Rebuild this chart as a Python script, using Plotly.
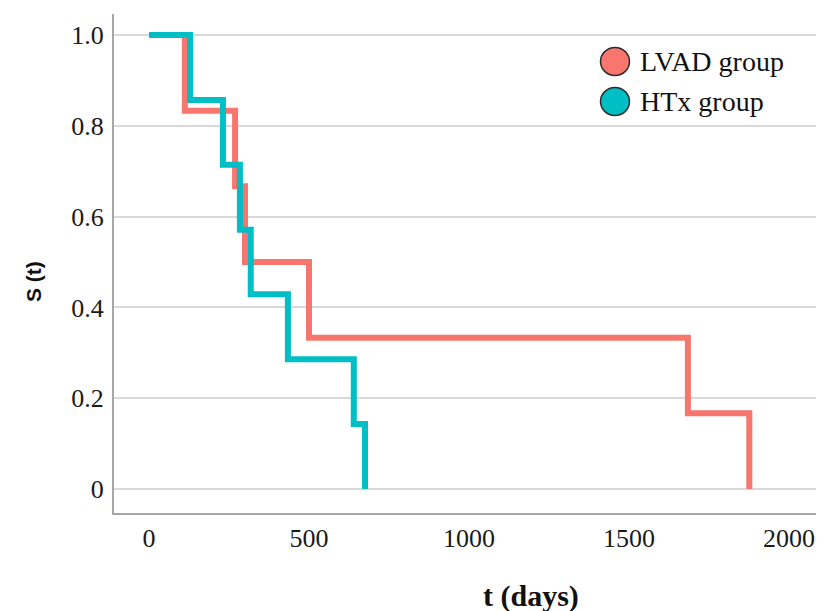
import plotly.graph_objects as go

# Kaplan-Meier step data
lvad_t = [0, 112, 269, 300, 500, 1684, 1876]
lvad_s = [1.0, 0.833, 0.667, 0.5, 0.333, 0.167, 0.0]

htx_t = [0, 128, 231, 284, 318, 434, 640, 675]
htx_s = [1.0, 0.857, 0.714, 0.571, 0.429, 0.286, 0.143, 0.0]

series_names = ["LVAD group", "HTx group"]
series_colors = ["#F8766D", "#00BFC4"]

x_tickvals = [0, 500, 1000, 1500, 2000]
x_ticktext = ["0", "500", "1000", "1500", "2000"]
y_tickvals = [0, 0.2, 0.4, 0.6, 0.8, 1.0]
y_ticktext = ["0", "0.2", "0.4", "0.6", "0.8", "1.0"]

OFF = 8  # page body margin in the browser
W, H = 824 - OFF, 611 - OFF
ML, MR, MT, MB = 106, 4, 6, 98
PW = W - ML - MR
PH = H - MT - MB


def px_x(p):
    return (p - OFF - ML) / PW


def px_y(p):
    return (H - MB - (p - OFF)) / PH


fig = go.Figure()
fig.add_trace(go.Scatter(x=lvad_t, y=lvad_s, mode="lines", line_shape="hv",
                         line=dict(color=series_colors[0], width=6),
                         name=series_names[0], showlegend=False))
fig.add_trace(go.Scatter(x=htx_t, y=htx_s, mode="lines", line_shape="hv",
                         line=dict(color=series_colors[1], width=6),
                         name=series_names[1], showlegend=False))

tick_font = dict(family="Liberation Serif", size=26, color="#1a1a1a")

fig.update_xaxes(range=[-109.4, 2096.9], tickvals=x_tickvals, ticktext=x_ticktext,
                 showgrid=False, zeroline=False, showline=True, linecolor="#a6a6a6",
                 linewidth=2, ticks="outside", ticklen=1, tickcolor="rgba(0,0,0,0)",
                 tickfont=tick_font)
fig.update_yaxes(range=[-0.0529, 1.0463], tickvals=y_tickvals, ticktext=y_ticktext,
                 showgrid=True, gridcolor="#d9d9d9", gridwidth=2, zeroline=False,
                 showline=True, linecolor="#a6a6a6", linewidth=2, ticks="outside",
                 ticklen=3, tickcolor="rgba(0,0,0,0)", tickfont=tick_font)

shapes = []
annotations = []
legend_rows = [61.5, 101.5]
for name, color, cy in zip(series_names, series_colors, legend_rows):
    shapes.append(dict(type="circle", xref="paper", yref="paper",
                       xsizemode="pixel", ysizemode="pixel",
                       xanchor=px_x(615), yanchor=px_y(cy),
                       x0=-14.5, x1=14.5, y0=-14, y1=14,
                       fillcolor=color, line=dict(color="#2b2b2b", width=1.5)))
    annotations.append(dict(text=name, xref="paper", yref="paper",
                            x=px_x(638), y=px_y(cy), xanchor="left", yanchor="middle",
                            showarrow=False,
                            font=dict(family="Liberation Serif", size=28, color="#111111")))

annotations.append(dict(text="<b>S (t)</b>", xref="paper", yref="paper",
                        x=px_x(33), y=px_y(282), xanchor="center", yanchor="middle",
                        textangle=-90, showarrow=False,
                        font=dict(family="Liberation Sans", size=21, color="#111111")))
annotations.append(dict(text="<b>t (days)</b>", xref="paper", yref="paper",
                        x=px_x(531), y=px_y(596), xanchor="center", yanchor="middle",
                        showarrow=False,
                        font=dict(family="Liberation Serif", size=30, color="#111111")))

fig.update_layout(width=W, height=H, margin=dict(l=ML, r=MR, t=MT, b=MB),
                  plot_bgcolor="white", paper_bgcolor="white",
                  showlegend=False, shapes=shapes, annotations=annotations)

fig.write_html("out.html")
